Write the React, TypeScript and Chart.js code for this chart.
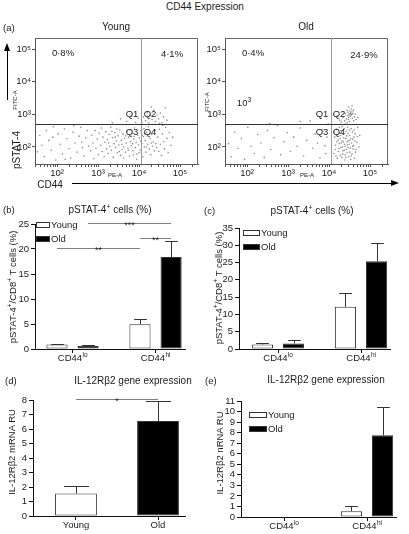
import React, { useEffect, useRef } from 'react';
import { Chart, registerables } from 'chart.js';

Chart.register(...registerables);

const FONT = '"Liberation Sans", Arial, Helvetica, sans-serif';
Chart.defaults.font.family = FONT;
Chart.defaults.font.size = 9;
Chart.defaults.color = '#222';

// ---------------- data ----------------
const seriesNames = ['Young', 'Old'];
const cd44Categories = ['CD44^lo', 'CD44^hi'];
const ageCategories = ['Young', 'Old'];

// (b) pSTAT-4+ cells (%)
const bYoung = [0.9, 4.95];
const bYoungErr = [1.0, 5.95];
const bOld = [0.6, 18.4];
const bOldErr = [0.75, 21.6];
const bYTicks = [0, 5, 10, 15, 20, 25];
const bSignif = [
  { from: [0, 0], to: [0, 1], y: 20.2, label: '**' },
  { from: [0, 1], to: [1, 1], y: 22.2, label: '**' },
  { from: [1, 0], to: [1, 1], y: 25.2, label: '***' },
];

// (c) pSTAT-4+ cells (%)
const cYoung = [1.3, 12.2];
const cYoungErr = [1.75, 16.2];
const cOld = [1.6, 25.4];
const cOldErr = [2.5, 30.7];
const cYTicks = [0, 5, 10, 15, 20, 25, 30, 35];

// (d) IL-12Rb2 gene expression
const dValues = [1.55, 6.55];
const dErr = [2.05, 7.9];
const dYTicks = [0, 1, 2, 3, 4, 5, 6, 7, 8];
const dSignif = [{ from: [0, 0], to: [0, 1], y: 8.07, label: '*' }];

// (e) IL-12Rb2 gene expression
const eYoung = [0, 0.55];
const eYoungErr = [0, 1.0];
const eOld = [0, 7.75];
const eOldErr = [0, 10.4];
const eYTicks = [0, 1, 2, 3, 4, 5, 6, 7, 8, 9, 10, 11];

// (a) flow cytometry (log10 PE-A, log10 FITC-A)
const flowDecades = [2, 3, 4, 5];
const flowXRange = [1.463, 5.439];
const flowYRange = [1.477, 5.338];
const youngGate = [4.05, 2.69];
const oldGate = [4.05, 2.69];
const youngQuadPct = ['0·8%', '4·1%'];
const oldQuadPct = ['0·4%', '24·9%'];

const youngDots = [
  [1.52,1.85],[1.58,2.35],[1.63,2.05],[1.69,1.7],[1.74,2.5],[1.8,2.2],[1.86,1.9],[1.91,2.62],[1.97,1.6],[2.03,2.4],
  [2.08,2.08],[2.13,1.78],[2.18,2.55],[2.24,2.25],[2.29,1.95],[2.34,1.66],[2.39,2.45],[2.44,2.12],[2.49,1.84],[2.54,2.33],
  [2.58,2.6],[2.62,1.98],[2.66,1.72],[2.7,2.28],[2.74,2.5],[2.77,2.02],[2.41,2.65],[1.9,2.3],[2.2,1.62],[2.6,2.15],
  [2.82,1.88],[2.85,2.36],[2.88,2.12],[2.9,1.64],[2.93,2.5],[2.95,1.96],[2.98,2.24],[3.01,1.76],[3.03,2.42],[3.06,2.05],
  [3.08,2.58],[3.1,1.86],[3.12,2.3],[3.15,1.7],[3.17,2.14],[3.19,2.46],[3.21,1.94],[3.23,2.22],[3.25,1.8],[3.27,2.38],
  [3.29,2.02],[3.31,2.6],[3.33,1.9],[3.35,2.28],[3.37,1.68],[3.39,2.1],[3.41,2.44],[3.43,1.98],[3.45,2.18],[3.47,1.82],
  [3.49,2.34],[3.51,2.06],[3.53,2.52],[3.55,1.74],[3.57,2.2],[3.59,1.92],[3.61,2.4],[3.63,2.0],[3.65,2.26],[3.67,1.84],
  [3.69,2.12],[3.71,2.48],[3.73,1.96],[3.75,2.3],[3.77,1.72],[3.79,2.16],[3.81,2.04],[3.83,2.42],[3.85,1.88],[3.87,2.24],
  [3.89,2.58],[3.91,1.98],[3.93,2.14],[3.95,1.78],[3.97,2.36],[3.99,2.06],[4.01,2.28],[4.03,1.9],[4.05,2.5],[4.07,2.1],
  [4.09,1.7],[4.11,2.32],[4.13,2.0],[4.15,2.2],[4.17,1.84],[4.19,2.44],[4.21,2.08],[4.23,2.62],[4.25,1.94],[4.27,2.26],
  [4.29,1.76],[4.31,2.38],[4.33,2.02],[4.35,2.16],[4.37,1.88],[4.39,2.5],[4.41,2.1],[4.43,1.98],[3.46,2.55],[3.62,1.66],
  [3.78,2.52],[3.94,1.62],[4.12,2.56],[4.26,2.4],[3.34,2.48],[3.58,2.08],[3.74,1.9],[3.88,2.32],[4.04,2.18],[4.18,2.0],
  [3.52,1.86],[3.68,2.34],[3.84,2.1],[4.0,1.82],[4.14,2.4],[4.3,2.12],[3.26,2.12],[3.42,2.3],[3.86,1.76],[4.08,2.36],
  [4.46,2.3],[4.48,1.86],[4.5,2.54],[4.52,2.08],[4.55,1.74],[4.57,2.4],[4.6,2.16],[4.62,1.94],[4.65,2.6],[4.68,2.26],
  [4.71,1.82],[4.74,2.44],[4.78,2.05],[4.82,2.3],[4.58,2.66],
  [4.07,2.76],[4.11,2.92],[4.16,2.8],[4.2,3.06],[4.24,2.74],[4.28,2.96],[4.32,2.84],[4.36,3.12],[4.4,2.78],[4.44,2.98],
  [4.48,2.86],[4.52,3.04],[4.56,2.74],[4.6,2.92],[4.64,3.2],[4.68,2.82],[4.3,3.22],[4.5,2.72],
  [3.35,2.74],[3.55,2.86],[3.7,2.78],[3.82,2.95],[3.92,2.75],[3.98,2.88],
];

const oldDots = [
  [1.55,2.1],[1.62,1.7],[1.7,2.45],[1.78,1.95],[1.86,2.25],[1.94,1.62],[2.02,2.6],[2.1,2.02],[2.18,1.8],[2.26,2.38],
  [2.34,2.12],[2.42,1.68],[2.5,2.5],[2.58,1.92],[2.66,2.28],[2.74,2.66],[2.82,1.76],[2.9,2.16],[2.98,2.44],[3.06,1.86],
  [3.14,2.3],[3.22,2.02],[3.3,2.58],[3.38,1.72],[3.46,2.2],[3.54,2.8],[3.6,1.96],[3.66,2.4],[3.72,2.12],[3.78,1.66],
  [3.84,2.52],[3.9,2.04],[3.95,2.3],[3.98,2.7],[3.8,2.88],[3.3,2.78],[2.55,2.72],[3.92,1.8],
  [4.12,1.8],[4.14,2.3],[4.16,2.05],[4.18,2.55],[4.2,1.65],[4.22,2.2],[4.24,1.95],[4.26,2.42],[4.28,1.75],[4.3,2.12],
  [4.32,2.62],[4.34,1.88],[4.36,2.28],[4.38,1.6],[4.4,2.02],[4.42,2.48],[4.44,1.82],[4.46,2.18],[4.48,1.7],[4.5,2.36],
  [4.52,1.96],[4.54,2.56],[4.56,1.78],[4.58,2.24],[4.6,2.04],[4.62,1.66],[4.64,2.4],[4.66,1.92],[4.68,2.14],[4.7,2.6],
  [4.13,2.45],[4.17,1.72],[4.21,2.38],[4.25,2.1],[4.29,2.5],[4.33,2.0],[4.37,1.9],[4.41,2.26],[4.45,2.6],[4.49,2.08],
  [4.53,1.62],[4.57,2.46],[4.61,2.3],[4.65,1.84],[4.69,2.32],[4.35,2.15],[4.39,1.76],[4.43,2.34],[4.47,1.98],[4.51,1.84],
  [4.55,2.12],[4.59,1.94],[4.63,2.18],[4.27,2.25],[4.31,1.68],[4.23,1.86],[4.19,2.15],[4.15,1.92],[4.33,2.4],[4.41,1.68],
  [4.45,2.06],[4.49,2.52],[4.37,2.56],[4.53,2.26],[4.57,2.02],[4.29,1.98],[4.25,2.6],[4.61,2.52],[4.73,2.0],[4.75,2.35],
  [4.34,1.78],[4.42,1.92],[4.46,2.42],[4.38,2.08],[4.5,2.2],[4.54,1.72],[4.32,2.18],[4.28,2.35],[4.44,2.15],[4.4,2.7],
  [4.3,2.76],[4.34,2.9],[4.38,2.8],[4.4,3.02],[4.42,2.86],[4.44,3.12],[4.46,2.96],[4.47,3.06],[4.48,2.9],[4.5,3.0],
  [4.51,3.1],[4.52,2.94],[4.53,3.04],[4.54,3.16],[4.55,2.98],[4.56,3.08],[4.57,2.88],[4.58,3.02],[4.6,3.12],[4.62,2.92],
  [4.64,3.0],[4.66,2.84],[4.48,3.22],[4.56,3.26],[4.36,3.08],[4.26,2.82],[4.2,2.95],[4.7,2.9],[4.5,2.78],[4.44,2.74],
  [4.52,3.02],[4.49,2.98],[4.55,3.0],[4.47,2.84],[4.6,2.8],
];

// ---------------- helpers ----------------
const SUP: Record<string, string> = { '0': '⁰', '1': '¹', '2': '²', '3': '³', '4': '⁴', '5': '⁵', '6': '⁶', '7': '⁷', '8': '⁸', '9': '⁹' };
function powLabel(v: number) {
  const e = Math.log10(v);
  const r = Math.round(e);
  if (Math.abs(e - r) > 1e-6 || !flowDecades.includes(r)) return '';
  return '10' + String(r).split('').map((c) => SUP[c] || c).join('');
}

type Rect = { left: number; top: number; width: number; height: number };
type Area = { l: number; t: number; r: number; b: number };

const X_AXIS_H = 6;

function flowPlugin(gate: number[]) {
  return {
    id: 'flowFrame',
    afterDraw(chart: any) {
      const { ctx, chartArea: a } = chart;
      const x = chart.scales.x;
      const y = chart.scales.y;
      ctx.save();
      ctx.lineWidth = 1;
      ctx.strokeStyle = '#666';
      ctx.beginPath();
      ctx.moveTo(Math.round(a.left), Math.round(a.top) + 0.5);
      ctx.lineTo(Math.round(a.right) - 0.5, Math.round(a.top) + 0.5);
      ctx.lineTo(Math.round(a.right) - 0.5, Math.round(a.bottom));
      ctx.stroke();
      const gx = Math.round(x.getPixelForValue(Math.pow(10, gate[0]))) + 0.5;
      const gy = Math.round(y.getPixelForValue(Math.pow(10, gate[1]))) + 0.5;
      ctx.strokeStyle = '#9a9a9a';
      ctx.beginPath();
      ctx.moveTo(gx, a.top);
      ctx.lineTo(gx, a.bottom);
      ctx.stroke();
      ctx.strokeStyle = '#333';
      ctx.beginPath();
      ctx.moveTo(a.left, gy);
      ctx.lineTo(a.right, gy);
      ctx.stroke();
      ctx.restore();
    },
  };
}

function flowConfig(rect: Rect, area: Area, dots: number[][], gate: number[]) {
  return {
    type: 'scatter',
    data: {
      datasets: [
        {
          data: dots.map(([a, b]) => ({ x: Math.pow(10, a), y: Math.pow(10, b) })),
          pointRadius: 0.8,
          pointBackgroundColor: '#8a8a8a',
          pointBorderWidth: 0,
          pointHoverRadius: 0,
        },
      ],
    },
    options: {
      animation: false,
      responsive: false,
      devicePixelRatio: 1,
      events: [],
      plugins: { legend: { display: false }, tooltip: { enabled: false } },
      layout: {
        padding: {
          left: 0,
          top: area.t - rect.top,
          right: rect.left + rect.width - area.r,
          bottom: rect.top + rect.height - area.b - 16,
        },
      },
      scales: {
        x: {
          type: 'logarithmic',
          min: Math.pow(10, flowXRange[0]),
          max: Math.pow(10, flowXRange[1]),
          afterBuildTicks: (s: any) => {
            s.ticks = s.ticks.filter((t: any) => {
              const m = t.value / Math.pow(10, Math.floor(Math.log10(t.value) + 1e-9));
              return Math.abs(m - Math.round(m)) < 1e-6;
            });
          },
          afterFit: (s: any) => { s.height = 16; s.paddingLeft = 0; s.paddingRight = 0; },
          ticks: { autoSkip: false, maxRotation: 0, minRotation: 0, padding: 1, color: '#222', font: { size: 9.5 }, callback: (v: any) => powLabel(Number(v)) },
          grid: { drawOnChartArea: false, drawTicks: true, tickLength: 3, color: '#555' },
          border: { display: true, color: '#555', width: 1 },
        },
        y: {
          type: 'logarithmic',
          min: Math.pow(10, flowYRange[0]),
          max: Math.pow(10, flowYRange[1]),
          afterBuildTicks: (s: any) => { s.ticks = flowDecades.map((e) => ({ value: Math.pow(10, e), major: true })); },
          afterFit: (s: any) => { s.width = area.l - rect.left; s.paddingTop = 0; s.paddingBottom = 0; },
          ticks: { autoSkip: false, padding: 1, color: '#222', font: { size: 9.5 }, callback: (v: any) => powLabel(Number(v)) },
          grid: { drawOnChartArea: false, drawTicks: true, tickLength: 3, color: '#555' },
          border: { display: true, color: '#555', width: 1 },
        },
      },
    },
    plugins: [flowPlugin(gate)],
  };
}

function barDecorPlugin(categories: string[], signif: any[]) {
  return {
    id: 'barDecor',
    afterDraw(chart: any) {
      const ctx = chart.ctx;
      const y = chart.scales.y;
      const x = chart.scales.x;
      const a = chart.chartArea;
      ctx.save();
      // error bars (upper)
      chart.data.datasets.forEach((ds: any, di: number) => {
        const meta = chart.getDatasetMeta(di);
        meta.data.forEach((el: any, i: number) => {
          const top = ds.errorTops ? ds.errorTops[i] : null;
          const v = ds.data[i].y;
          if (top == null || top <= v) return;
          const px = Math.round(el.x) + 0.5;
          const py0 = y.getPixelForValue(v);
          const py1 = Math.round(y.getPixelForValue(top)) + 0.5;
          const half = el.width * 0.3;
          ctx.strokeStyle = '#333';
          ctx.lineWidth = 1;
          ctx.beginPath();
          ctx.moveTo(px, py0);
          ctx.lineTo(px, py1);
          ctx.moveTo(px - half, py1);
          ctx.lineTo(px + half, py1);
          ctx.stroke();
        });
      });
      // significance brackets
      signif.forEach((s: any) => {
        const ea = chart.getDatasetMeta(s.from[0]).data[s.from[1]];
        const eb = chart.getDatasetMeta(s.to[0]).data[s.to[1]];
        const py = Math.round(y.getPixelForValue(s.y)) + 0.5;
        ctx.strokeStyle = '#808080';
        ctx.lineWidth = 1;
        ctx.beginPath();
        ctx.moveTo(ea.x, py);
        ctx.lineTo(eb.x, py);
        ctx.stroke();
        ctx.fillStyle = '#222';
        ctx.font = `9px ${FONT}`;
        ctx.textAlign = 'center';
        ctx.textBaseline = 'alphabetic';
        ctx.fillText(s.label, (ea.x + eb.x) / 2, py + 4);
      });
      // category labels with superscripts
      categories.forEach((c, i) => {
        const px = x.getPixelForValue(i);
        const [main, sup] = c.split('^');
        ctx.font = `9.5px ${FONT}`;
        const w1 = ctx.measureText(main).width;
        ctx.font = `6.5px ${FONT}`;
        const w2 = sup ? ctx.measureText(sup).width : 0;
        const sx = px - (w1 + w2) / 2;
        ctx.fillStyle = '#222';
        ctx.textAlign = 'left';
        ctx.textBaseline = 'middle';
        ctx.font = `9.5px ${FONT}`;
        ctx.fillText(main, sx, a.bottom + 9.5);
        if (sup) {
          ctx.font = `6.5px ${FONT}`;
          ctx.fillText(sup, sx + w1 + 0.3, a.bottom + 6.5);
        }
      });
      ctx.restore();
    },
  };
}

function barDataset(name: string, values: number[], errs: number[], fill: any, cp: number, bp: number) {
  return {
    label: name,
    data: values.map((v, i) => ({ x: i, y: v })),
    errorTops: errs,
    backgroundColor: fill,
    borderColor: '#333',
    borderWidth: (c: any) => (c.raw && c.raw.y > 0 ? 1 : 0),
    borderSkipped: false,
    categoryPercentage: cp,
    barPercentage: bp,
  };
}

function barConfig(rect: Rect, area: Area, xRange: number[], yTicks: number[], datasets: any[], categories: string[], signif: any[]) {
  return {
    type: 'bar',
    data: { datasets },
    options: {
      animation: false,
      responsive: false,
      devicePixelRatio: 1,
      events: [],
      plugins: { legend: { display: false }, tooltip: { enabled: false } },
      layout: {
        padding: {
          left: 0,
          top: area.t - rect.top,
          right: rect.left + rect.width - area.r,
          bottom: rect.top + rect.height - area.b - X_AXIS_H,
        },
      },
      scales: {
        x: {
          type: 'linear',
          min: xRange[0],
          max: xRange[1],
          bounds: 'data',
          offset: false,
          afterBuildTicks: (s: any) => { s.ticks = categories.map((_, i) => ({ value: i })); },
          afterFit: (s: any) => { s.height = X_AXIS_H; s.paddingLeft = 0; s.paddingRight = 0; },
          ticks: { display: false },
          grid: { offset: false, drawOnChartArea: false, drawTicks: true, tickLength: 4, color: '#111' },
          border: { display: true, color: '#111', width: 1 },
        },
        y: {
          type: 'linear',
          min: yTicks[0],
          max: yTicks[yTicks.length - 1],
          afterBuildTicks: (s: any) => { s.ticks = yTicks.map((v) => ({ value: v })); },
          afterFit: (s: any) => { s.width = area.l - rect.left; s.paddingTop = 0; s.paddingBottom = 0; },
          ticks: { autoSkip: false, padding: 2, color: '#222', font: { size: 9.5 } },
          grid: { drawOnChartArea: false, drawTicks: true, tickLength: 4, color: '#111' },
          border: { display: true, color: '#111', width: 1 },
        },
      },
    },
    plugins: [barDecorPlugin(categories, signif)],
  };
}

// ---------------- layout ----------------
const youngRect = { left: 0, top: 30, width: 205, height: 152 };
const youngArea = { l: 35, t: 38, r: 198, b: 164 };
const oldRect = { left: 190, top: 30, width: 205, height: 152 };
const oldArea = { l: 225, t: 38, r: 388, b: 164 };

const bRect = { left: 0, top: 195, width: 200, height: 175 };
const bArea = { l: 35, t: 224, r: 185, b: 349 };
const cRect = { left: 200, top: 195, width: 209, height: 175 };
const cArea = { l: 239, t: 228, r: 390, b: 349 };
const dRect = { left: 0, top: 365, width: 200, height: 169 };
const dArea = { l: 33, t: 400, r: 185, b: 516 };
const eRect = { left: 200, top: 365, width: 209, height: 169 };
const eArea = { l: 241, t: 401, r: 396, b: 517 };

const makers: { rect: Rect; make: () => any }[] = [
  { rect: youngRect, make: () => flowConfig(youngRect, youngArea, youngDots, youngGate) },
  { rect: oldRect, make: () => flowConfig(oldRect, oldArea, oldDots, oldGate) },
  {
    rect: bRect,
    make: () => barConfig(bRect, bArea, [-0.452, 1.355], bYTicks, [
      barDataset(seriesNames[0], bYoung, bYoungErr, '#ffffff', 0.75, 0.68),
      barDataset(seriesNames[1], bOld, bOldErr, '#000000', 0.75, 0.68),
    ], cd44Categories, bSignif),
  },
  {
    rect: cRect,
    make: () => barConfig(cRect, cArea, [-0.47, 1.349], cYTicks, [
      barDataset(seriesNames[0], cYoung, cYoungErr, '#ffffff', 0.75, 0.68),
      barDataset(seriesNames[1], cOld, cOldErr, '#000000', 0.75, 0.68),
    ], cd44Categories, []),
  },
  {
    rect: dRect,
    make: () => barConfig(dRect, dArea, [-0.524, 1.329], dYTicks, [
      barDataset('IL-12Rβ2', dValues, dErr, ['#ffffff', '#000000'], 1.0, 0.51),
    ], ageCategories, dSignif),
  },
  {
    rect: eRect,
    make: () => barConfig(eRect, eArea, [-0.518, 1.349], eYTicks, [
      barDataset(seriesNames[0], eYoung, eYoungErr, '#ffffff', 0.75, 0.68),
      barDataset(seriesNames[1], eOld, eOldErr, '#000000', 0.75, 0.68),
    ], cd44Categories, []),
  },
];

function ChartCanvas({ rect, make }: { rect: Rect; make: () => any }) {
  const ref = useRef<HTMLCanvasElement | null>(null);
  useEffect(() => {
    const chart = new Chart(ref.current as HTMLCanvasElement, make());
    return () => chart.destroy();
  }, []);
  return (
    <div style={{ position: 'absolute', left: rect.left, top: rect.top, width: rect.width, height: rect.height }}>
      <canvas ref={ref} width={rect.width} height={rect.height} style={{ width: rect.width, height: rect.height, display: 'block' }} />
    </div>
  );
}

function Txt({ x, y, s = 9.5, rot = false, left = false, children }: any) {
  return (
    <div
      style={{
        position: 'absolute',
        left: x,
        top: y,
        fontSize: s,
        lineHeight: 1,
        whiteSpace: 'nowrap',
        color: '#1a1a1a',
        fontFamily: FONT,
        transform: `translate(${left ? '0' : '-50%'}, -50%)${rot ? ' rotate(-90deg)' : ''}`,
      }}
    >
      {children}
    </div>
  );
}

const supStyle: any = { fontSize: '70%', verticalAlign: 'super', lineHeight: 0 };

function Legend({ x, y, boxW }: { x: number; y: number; boxW: number }) {
  const fills = ['#ffffff', '#000000'];
  return (
    <>
      {seriesNames.map((n, i) => (
        <React.Fragment key={n}>
          <div style={{ position: 'absolute', left: x, top: y + i * 14 - 3, width: boxW, height: 6, background: fills[i], border: '1px solid #333', boxSizing: 'border-box' }} />
          <Txt x={x + boxW + 1} y={y + i * 14} left>{n}</Txt>
        </React.Fragment>
      ))}
    </>
  );
}

export default function App() {
  return (
    <div style={{ position: 'absolute', left: 0, top: 0, width: 409, height: 534, background: '#fff', overflow: 'hidden', fontFamily: FONT }}>
      {makers.map((m, i) => (
        <ChartCanvas key={i} rect={m.rect} make={m.make} />
      ))}

      {/* panel (a) */}
      <Txt x={205} y={7} s={10}>CD44 Expression</Txt>
      <Txt x={3} y={28} left>(a)</Txt>
      <Txt x={116} y={27} s={10}>Young</Txt>
      <Txt x={306} y={27} s={10}>Old</Txt>
      <Txt x={63} y={53}>{youngQuadPct[0]}</Txt>
      <Txt x={172} y={54}>{youngQuadPct[1]}</Txt>
      <Txt x={253} y={53}>{oldQuadPct[0]}</Txt>
      <Txt x={364} y={55}>{oldQuadPct[1]}</Txt>
      <Txt x={132} y={114}>Q1</Txt>
      <Txt x={150} y={114}>Q2</Txt>
      <Txt x={132} y={132}>Q3</Txt>
      <Txt x={150} y={132}>Q4</Txt>
      <Txt x={322} y={114}>Q1</Txt>
      <Txt x={339} y={114}>Q2</Txt>
      <Txt x={322} y={132}>Q3</Txt>
      <Txt x={339} y={132}>Q4</Txt>
      <Txt x={244} y={103}>10<span style={supStyle}>3</span></Txt>
      <Txt x={15} y={100} s={6} rot>FITC-A</Txt>
      <Txt x={207} y={102} s={6} rot>FITC-A</Txt>
      <Txt x={17} y={150} s={10} rot>pSTAT-4</Txt>
      <Txt x={115} y={175} s={6}>PE-A</Txt>
      <Txt x={307} y={175} s={6}>PE-A</Txt>
      <Txt x={50} y={185} s={10}>CD44</Txt>
      <div style={{ position: 'absolute', left: 6.5, top: 50, width: 1.5, height: 50, background: '#000' }} />
      <div style={{ position: 'absolute', left: 4.25, top: 43, width: 0, height: 0, borderLeft: '3px solid transparent', borderRight: '3px solid transparent', borderBottom: '8px solid #000' }} />
      <div style={{ position: 'absolute', left: 72, top: 182.5, width: 320, height: 1.5, background: '#000' }} />
      <div style={{ position: 'absolute', left: 391, top: 180, width: 0, height: 0, borderTop: '3px solid transparent', borderBottom: '3px solid transparent', borderLeft: '8px solid #000' }} />

      {/* panel (b) */}
      <Txt x={3} y={210} left>(b)</Txt>
      <Txt x={110} y={210} s={10}>pSTAT-4<span style={supStyle}>+</span> cells (%)</Txt>
      <Txt x={13} y={287} rot>pSTAT-4<span style={supStyle}>+</span>/CD8<span style={supStyle}>+</span> T cells (%)</Txt>
      <Legend x={36} y={225} boxW={14} />

      {/* panel (c) */}
      <Txt x={204} y={211} left>(c)</Txt>
      <Txt x={312} y={211} s={10}>pSTAT-4<span style={supStyle}>+</span> cells (%)</Txt>
      <Txt x={219} y={288} rot>pSTAT-4<span style={supStyle}>+</span>/CD8<span style={supStyle}>+</span> T cells (%)</Txt>
      <Legend x={243} y={233} boxW={17} />

      {/* panel (d) */}
      <Txt x={5} y={381} left>(d)</Txt>
      <Txt x={133} y={381} s={10}>IL-12Rβ2 gene expression</Txt>
      <Txt x={12} y={452} rot>IL-12Rβ2 mRNA RU</Txt>

      {/* panel (e) */}
      <Txt x={205} y={381} left>(e)</Txt>
      <Txt x={326} y={380} s={10}>IL-12Rβ2 gene expression</Txt>
      <Txt x={220} y={453} rot>IL-12Rβ2 nRNA RU</Txt>
      <Legend x={249} y={415} boxW={18} />
    </div>
  );
}
